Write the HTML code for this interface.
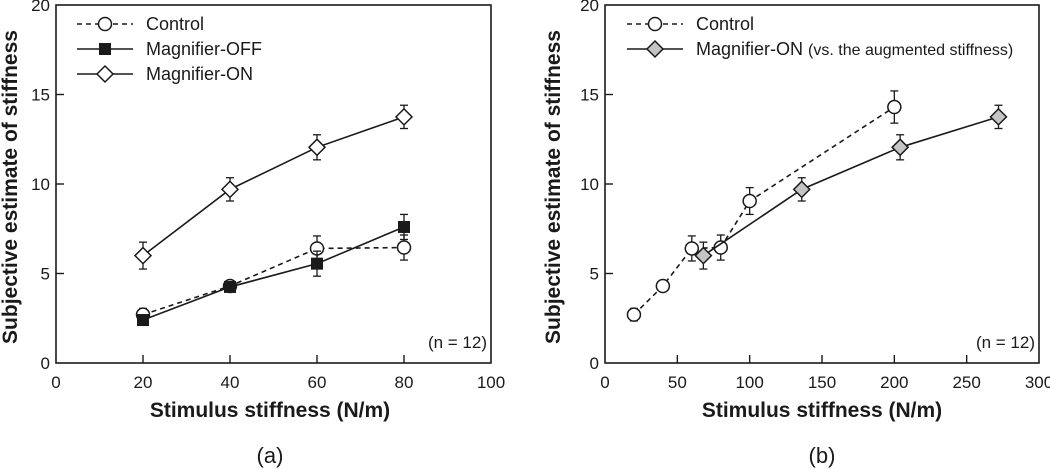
<!DOCTYPE html>
<html><head><meta charset="utf-8"><style>
html,body{margin:0;padding:0;background:#fff;}
svg{display:block;font-family:"Liberation Sans",Arial,sans-serif;}
</style></head><body>
<svg id="fig" width="1050" height="469" viewBox="0 0 1050 469"></svg>
<script>
// Panel (a)
const aX = [20, 40, 60, 80];
const aControl = [2.7, 4.3, 6.4, 6.45];
const aControlErr = [0.35, 0.3, 0.7, 0.7];
const aOff = [2.4, 4.25, 5.55, 7.6];
const aOffErr = [0.2, 0.2, 0.7, 0.7];
const aOn = [6.0, 9.7, 12.05, 13.75];
const aOnErr = [0.75, 0.65, 0.7, 0.65];
const aXTicks = [0, 20, 40, 60, 80, 100];
// Panel (b)
const bControlX = [20, 40, 60, 80, 100, 200];
const bControl = [2.7, 4.3, 6.4, 6.45, 9.05, 14.3];
const bControlErr = [0.35, 0.2, 0.7, 0.7, 0.75, 0.9];
const bOnX = [68, 136, 204, 272];
const bOn = [6.0, 9.7, 12.05, 13.75];
const bOnErr = [0.75, 0.65, 0.7, 0.65];
const bXTicks = [0, 50, 100, 150, 200, 250, 300];
const yTicks = [0, 5, 10, 15, 20];

const NS = "http://www.w3.org/2000/svg";
const svg = document.getElementById('fig');
function mk(tag, attrs, parent, text) {
  const e = document.createElementNS(NS, tag);
  for (const k in attrs) e.setAttribute(k, attrs[k]);
  if (text !== undefined) e.textContent = text;
  (parent || svg).appendChild(e);
  return e;
}
const INK = "#1a1a1a";

function marker(g, type, cx, cy) {
  let m;
  if (type === 'circle') m = mk('circle', {cx, cy, r: 6.5, fill: '#fff', stroke: INK, 'stroke-width': 1.5}, g);
  else if (type === 'square') m = mk('rect', {x: cx - 6, y: cy - 6, width: 12, height: 12, fill: INK}, g);
  else {
    const fill = type === 'diamondGray' ? '#c4c4c4' : '#fff';
    m = mk('polygon', {points: `${cx},${cy-8} ${cx+8},${cy} ${cx},${cy+8} ${cx-8},${cy}`, fill, stroke: INK, 'stroke-width': 1.5}, g);
  }
  return m;
}

function panel(cfg) {
  const g = mk('g', {});
  
  
  const L = cfg.left, R = cfg.right, T = 5, B = 363;
  const sx = v => L + (v - cfg.xMin) / (cfg.xMax - cfg.xMin) * (R - L);
  const sy = v => B - v / 20 * (B - T);
  const frame = mk('rect', {x: L, y: T, width: R - L, height: B - T, fill: 'none', stroke: INK, 'stroke-width': 1.6}, g);
  
  
  cfg.xTicks.forEach(t => {
    const x = sx(t);
    if (t !== cfg.xMin && t !== cfg.xMax) mk('line', {x1: x, x2: x, y1: B, y2: B - 8, stroke: INK, 'stroke-width': 1.4}, g);
    const lb = mk('text', {x, y: 388, 'text-anchor': 'middle', 'font-size': 17, fill: INK}, g, String(t));
    
    
  });
  yTicks.forEach(t => {
    const y = sy(t);
    if (t !== 0 && t !== 20) mk('line', {x1: L, x2: L + 8, y1: y, y2: y, stroke: INK, 'stroke-width': 1.4}, g);
    const lb = mk('text', {x: L - 6, y: y + 6, 'text-anchor': 'end', 'font-size': 17, fill: INK}, g, String(t));
    
    
  });
  const xt = mk('text', {x: cfg.xTitleX, y: 417, 'text-anchor': 'middle', 'font-size': 21, 'font-weight': 'bold', fill: INK}, g, 'Stimulus stiffness (N/m)');
  
  
  const yt = mk('text', {x: 0, y: 0, 'text-anchor': 'middle', 'font-size': 21, 'font-weight': 'bold', fill: INK, transform: `translate(${cfg.yTitleX},187) rotate(-90)`}, g, 'Subjective estimate of stiffness');
  
  
  const nl = mk('text', {x: R - 4, y: 348, 'text-anchor': 'end', 'font-size': 17, fill: INK}, g, '(n = 12)');
  
  
  const cap = mk('text', {x: cfg.xTitleX, y: 463, 'text-anchor': 'middle', 'font-size': 22, fill: INK}, g, cfg.caption);
  
  

  cfg.series.forEach(s => {
    const sg = mk('g', {}, g);
    
    
    const pts = s.xs.map((x, i) => [sx(x), sy(s.ys[i])]);
    mk('polyline', {points: pts.map(p => p.join(',')).join(' '), fill: 'none', stroke: INK, 'stroke-width': 1.6, 'stroke-dasharray': s.dash ? '5,4' : 'none'}, sg);
    s.xs.forEach((x, i) => {
      const px = sx(x), y1 = sy(s.ys[i] - s.err[i]), y2 = sy(s.ys[i] + s.err[i]);
      mk('line', {x1: px, x2: px, y1, y2, stroke: INK, 'stroke-width': 1.3}, sg);
      mk('line', {x1: px - 4, x2: px + 4, y1, y2: y1, stroke: INK, 'stroke-width': 1.3}, sg);
      mk('line', {x1: px - 4, x2: px + 4, y1: y2, y2: y2, stroke: INK, 'stroke-width': 1.3}, sg);
    });
    s.xs.forEach((x, i) => {
      const m = marker(sg, s.marker, sx(x), sy(s.ys[i]));
      
      
    });
  });

  cfg.legend.forEach((e, i) => {
    const y = 24 + i * 25;
    const lg = mk('g', {}, g);
    
    
    mk('line', {x1: cfg.legX, x2: cfg.legX + 56, y1: y, y2: y, stroke: INK, 'stroke-width': 1.6, 'stroke-dasharray': e.dash ? '5,4' : 'none'}, lg);
    marker(lg, e.marker, cfg.legX + 28, y);
    const t = mk('text', {x: cfg.legX + 69, y: y + 6, 'font-size': 18, fill: INK}, lg, e.label);
    if (e.extra) mk('tspan', {'font-size': 16}, t, e.extra);
  });
}

panel({name: 'panel-a', left: 56, right: 491, xMin: 0, xMax: 100, xTicks: aXTicks, xTitleX: 270, yTitleX: 17, caption: '(a)', legX: 77,
  series: [
    {name: 'series-control', xs: aX, ys: aControl, err: aControlErr, marker: 'circle', dash: true},
    {name: 'series-magnifier-off', xs: aX, ys: aOff, err: aOffErr, marker: 'square'},
    {name: 'series-magnifier-on', xs: aX, ys: aOn, err: aOnErr, marker: 'diamond'}
  ],
  legend: [
    {label: 'Control', marker: 'circle', dash: true},
    {label: 'Magnifier-OFF', marker: 'square'},
    {label: 'Magnifier-ON', marker: 'diamond'}
  ]});

panel({name: 'panel-b', left: 605, right: 1039, xMin: 0, xMax: 300, xTicks: bXTicks, xTitleX: 822, yTitleX: 560, caption: '(b)', legX: 627,
  series: [
    {name: 'series-control', xs: bControlX, ys: bControl, err: bControlErr, marker: 'circle', dash: true},
    {name: 'series-magnifier-on-augmented', xs: bOnX, ys: bOn, err: bOnErr, marker: 'diamondGray'}
  ],
  legend: [
    {label: 'Control', marker: 'circle', dash: true},
    {label: 'Magnifier-ON ', extra: '(vs. the augmented stiffness)', marker: 'diamondGray'}
  ]});
</script>
</body></html>
